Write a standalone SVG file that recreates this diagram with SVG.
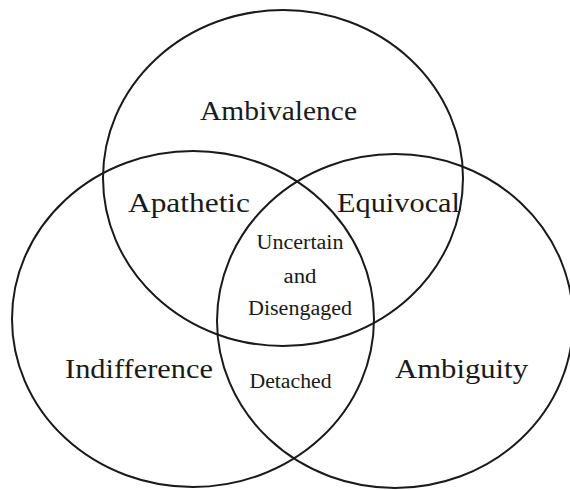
<svg xmlns="http://www.w3.org/2000/svg" width="570" height="490" viewBox="0 0 570 490">
  <style>
    .set { fill: none; stroke: #1a1a1a; stroke-width: 2; }
    .big { font-family: "Liberation Serif", "DejaVu Serif", serif; font-size: 28px; fill: #1a1a1a; text-anchor: middle; }
    .small { font-family: "Liberation Serif", "DejaVu Serif", serif; font-size: 20px; fill: #1a1a1a; text-anchor: middle; }
  </style>
  <rect width="570" height="490" fill="#ffffff"/>
  <g id="sets">
    <ellipse id="set-ambivalence" class="set" cx="283" cy="178" rx="180" ry="168"/>
    <ellipse id="set-indifference" class="set" cx="193" cy="319" rx="181" ry="168"/>
    <ellipse id="set-ambiguity" class="set" cx="395" cy="321" rx="178" ry="167"/>
  </g>
  <g id="labels">
    <text class="big" x="278.5" y="120" textLength="157" lengthAdjust="spacingAndGlyphs">Ambivalence</text>
    <text class="big" x="189" y="212" textLength="122" lengthAdjust="spacingAndGlyphs">Apathetic</text>
    <text class="big" x="398.5" y="212" textLength="123" lengthAdjust="spacingAndGlyphs">Equivocal</text>
    <text class="small" x="300" y="249" textLength="87" lengthAdjust="spacingAndGlyphs">Uncertain</text>
    <text class="small" x="300" y="283" textLength="33" lengthAdjust="spacingAndGlyphs">and</text>
    <text class="small" x="300" y="315" textLength="104" lengthAdjust="spacingAndGlyphs">Disengaged</text>
    <text class="big" x="139" y="378" textLength="148" lengthAdjust="spacingAndGlyphs">Indifference</text>
    <text class="small" x="290.5" y="388" textLength="82" lengthAdjust="spacingAndGlyphs">Detached</text>
    <text class="big" x="461.5" y="378" textLength="133" lengthAdjust="spacingAndGlyphs">Ambiguity</text>
  </g>
</svg>
